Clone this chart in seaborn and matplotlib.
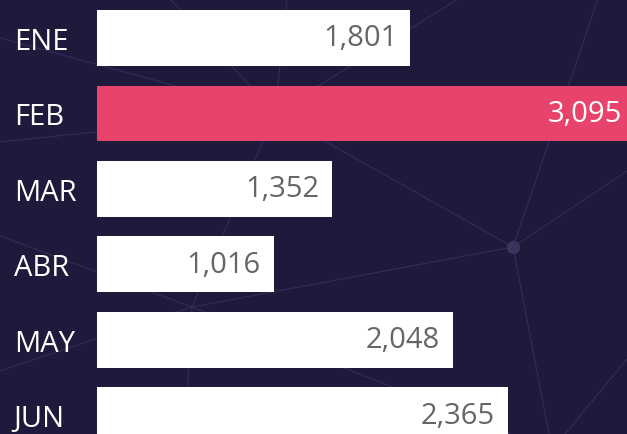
import matplotlib
matplotlib.use('Agg')
import matplotlib.pyplot as plt
import matplotlib.transforms as mtransforms
from matplotlib.lines import Line2D
import seaborn as sns
import pandas as pd

months = ['ENE', 'FEB', 'MAR', 'ABR', 'MAY', 'JUN']
values = [1801, 3095, 1352, 1016, 2048, 2365]
highlight = 'FEB'

BG = '#1f1a3c'
BAR = '#ffffff'
HI = '#e8446b'
LINE = '#322d56'

# background network decoration, figure pixel coords (not data)
NODE_A = (513, 248)
NODE_B = (192, 308)
NODE_C = (275, 114)
EDGES = [
    (NODE_C, (0, 39)), (NODE_C, (0, 143)), (NODE_C, (170, 0)), (NODE_C, (287, 0)),
    (NODE_C, (458, 0)), (NODE_C, NODE_A), (NODE_C, NODE_B),
    (NODE_A, (598, 0)), (NODE_A, (660, 150)), (NODE_A, (549, 435)), (NODE_A, NODE_B),
    (NODE_B, (0, 237)), (NODE_B, (0, 372)), (NODE_B, (510, 435)), (NODE_B, (185, 435)),
    ((627, 360), (565, 435)),
]

W, H = 627, 435

sns.set_theme(style='white')
plt.rcParams['font.family'] = ['Open Sans', 'DejaVu Sans']

fig = plt.figure(figsize=(W / 100, H / 100), dpi=100)
fig.patch.set_facecolor(BG)


def px(p):
    return p[0] / W, 1 - p[1] / H


for a, b in EDGES:
    (x0, y0), (x1, y1) = px(a), px(b)
    fig.add_artist(Line2D([x0, x1], [y0, y1], transform=fig.transFigure,
                          color=LINE, lw=0.8, zorder=-2))
nx, ny = px(NODE_A)
fig.add_artist(Line2D([nx], [ny], transform=fig.transFigure, marker='o', markersize=8.5,
                      color='#3a355e', lw=0, zorder=-1))

ax = fig.add_axes([97 / W, 0, 1 - 97 / W, 1])
ax.patch.set_alpha(0)

df = pd.DataFrame({'month': months, 'value': values})
colors = {m: (HI if m == highlight else BAR) for m in months}
sns.barplot(data=df, x='value', y='month', hue='month', palette=colors,
            legend=False, orient='h', width=0.74, linewidth=0, saturation=1, ax=ax)

ax.set_xlim(0, 3049)
ax.set_ylim(5.25, -0.517)
for s in ax.spines.values():
    s.set_visible(False)
ax.set_xticks([])
ax.set_xlabel('')
ax.set_ylabel('')
ax.tick_params(axis='y', length=0, pad=60, labelsize=21, labelcolor='white')
for t in ax.get_yticklabels():
    t.set_ha('left')

shift = mtransforms.offset_copy(ax.transData, fig=fig, x=-13, y=0, units='dots')
for i, (m, v) in enumerate(zip(months, values)):
    ax.text(v, i, f'{v:,}', transform=shift, ha='right', va='center',
            fontsize=21, color='white' if m == highlight else '#666666',
            clip_on=False)

fig.savefig('out.png', dpi=100, facecolor=BG)
